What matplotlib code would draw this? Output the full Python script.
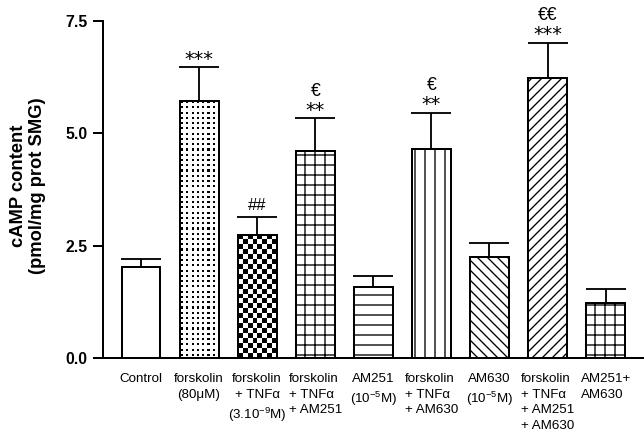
import numpy as np
import matplotlib
matplotlib.use('Agg')
import matplotlib.pyplot as plt

plt.rcParams['font.family'] = ['Liberation Sans', 'DejaVu Sans']
plt.rcParams['mathtext.fontset'] = 'custom'
plt.rcParams['mathtext.rm'] = 'Liberation Sans'
plt.rcParams['mathtext.it'] = 'Liberation Sans'
plt.rcParams['hatch.linewidth'] = 0.8

# data
labels = ['Control',
          'forskolin\n(80\u03bcM)',
          'forskolin\n+ TNF\u03b1\n(3.10$^{-9}$M)',
          'forskolin\n+ TNF\u03b1\n+ AM251',
          'AM251\n(10$^{-5}$M)',
          'forskolin\n+ TNF\u03b1\n+ AM630',
          'AM630\n(10$^{-5}$M)',
          'forskolin\n+ TNF\u03b1\n+ AM251\n+ AM630',
          'AM251+\nAM630']
means = [2.03, 5.73, 2.74, 4.61, 1.59, 4.66, 2.25, 6.24, 1.22]
sems = [0.17, 0.75, 0.40, 0.73, 0.23, 0.80, 0.32, 0.78, 0.32]
sig_lower = ['', '***', '##', '**', '', '**', '', '***', '']
sig_upper = ['', '', '', '\u20ac', '', '\u20ac', '', '\u20ac\u20ac', '']

patterns = [None, 'dots', 'checker', '++', '--', '||', '\\\\\\\\', '////', '++']
label_align = ['center', 'center', 'center', 'left', 'center', 'left', 'center', 'left', 'left']

dpi = 120
fig = plt.figure(figsize=(644 / dpi, 432 / dpi), dpi=dpi)
ax = fig.add_axes([103 / 644, 1 - 358 / 432, 541 / 644, 337 / 432])
ax.set_xlim(-0.654, 8.66)
ax.set_ylim(0, 7.5)

x = np.arange(len(means))
lw = 1.2


def fill_tile(bar, tile, cell_px):
    # repeat a small 0/1 tile inside the bar (for patterns mpl has no hatch for)
    x0, w, h = bar.get_x(), bar.get_width(), bar.get_height()
    (px0, py0), (px1, py1) = ax.transData.transform([(x0, 0), (x0 + w, h)])
    ncols = max(1, int(round((px1 - px0) / cell_px)))
    nrows = max(1, int(round((py1 - py0) / cell_px)))
    reps = (nrows // tile.shape[0] + 1, ncols // tile.shape[1] + 1)
    img = np.tile(tile, reps)[:nrows, :ncols]
    im = ax.imshow(img, cmap='gray_r', vmin=0, vmax=1, extent=(x0, x0 + w, 0, h),
                   origin='upper', interpolation='nearest', aspect='auto', zorder=1.5)
    im.set_clip_path(bar)


dot_tile = np.zeros((5, 5))
dot_tile[1:3, 1:3] = 1
checker_tile = np.array([[1, 0], [0, 1]])

for i in range(len(means)):
    p = patterns[i]
    hatch = p if p not in (None, 'dots', 'checker') else None
    b = ax.bar(x[i], means[i], width=0.67, color='white', edgecolor='black',
               linewidth=lw, hatch=hatch, zorder=1)[0]
    if p == 'dots':
        fill_tile(b, dot_tile, 1.05)
    elif p == 'checker':
        fill_tile(b, checker_tile, 4.9)
    if p in ('dots', 'checker'):
        ax.bar(x[i], means[i], width=0.67, color='none', edgecolor='black',
               linewidth=lw, zorder=2)

ax.errorbar(x, means, yerr=[np.zeros(len(sems)), sems], fmt='none', ecolor='black',
            elinewidth=1.1, capsize=12, capthick=1.1, zorder=0.5)

tops = np.array(means) + np.array(sems)
for i in range(len(means)):
    s = sig_lower[i]
    if s.startswith('*'):
        ax.annotate(s, (x[i], tops[i]), xytext=(0, 1.3), textcoords='offset points',
                    ha='center', va='baseline', fontsize=11.5, family='DejaVu Sans')
    elif s:
        ax.annotate(s, (x[i], tops[i]), xytext=(0, 4), textcoords='offset points',
                    ha='center', va='baseline', fontsize=10)
    if sig_upper[i]:
        ax.annotate(sig_upper[i], (x[i], tops[i]), xytext=(0, 13.5), textcoords='offset points',
                    ha='center', va='baseline', fontsize=10.5)

ax.set_xlim(-0.654, 8.66)
ax.set_ylim(0, 7.5)

for side in ('top', 'right'):
    ax.spines[side].set_visible(False)
for side in ('left', 'bottom'):
    ax.spines[side].set_linewidth(lw)

ax.set_yticks([0, 2.5, 5.0, 7.5])
ax.set_yticklabels(['0.0', '2.5', '5.0', '7.5'], fontweight='bold', fontsize=9.5)
ax.tick_params(axis='y', length=6, width=lw, pad=3.5)
ax.set_xticks(x)
ax.set_xticklabels(labels, fontsize=8, va='top', linespacing=1.4)
for t, al in zip(ax.get_xticklabels(), label_align):
    t.set_multialignment(al)
ax.tick_params(axis='x', length=0, pad=9)

ax.set_ylabel('cAMP content\n(pmol/mg prot SMG)', fontsize=11, fontweight='bold',
              linespacing=1.1)
ax.yaxis.set_label_coords(-0.106, 0.51)

fig.savefig('out.png', dpi=dpi)
